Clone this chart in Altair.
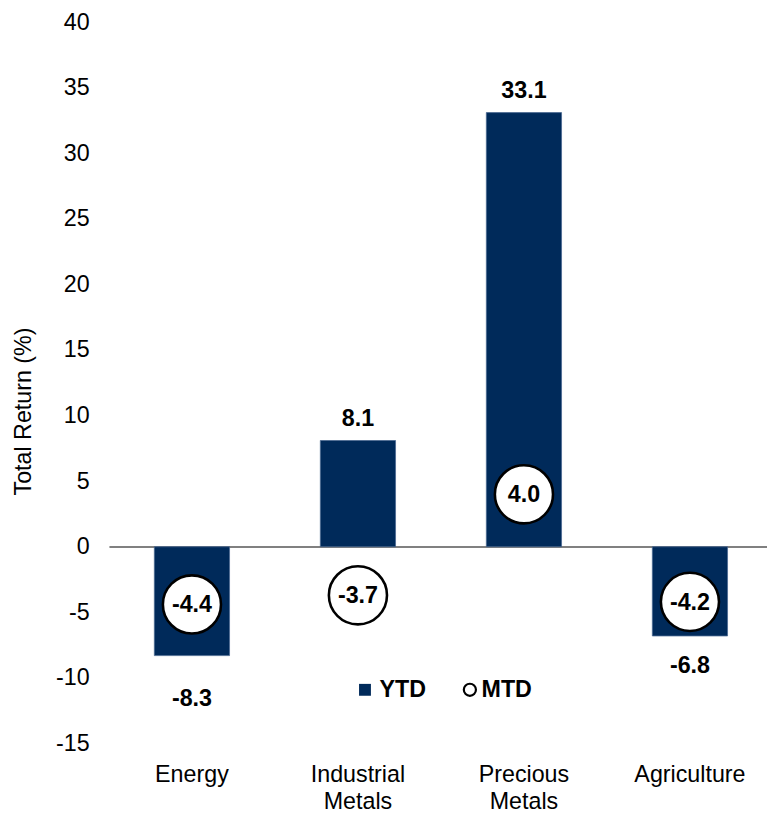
import altair as alt
import pandas as pd

categories = ["Energy", "Industrial Metals", "Precious Metals", "Agriculture"]
ytd = [-8.3, 8.1, 33.1, -6.8]
mtd = [-4.4, -3.7, 4.0, -4.2]
series = ["YTD", "MTD"]
y_ticks = [-15, -10, -5, 0, 5, 10, 15, 20, 25, 30, 35, 40]

NAVY = "#002A5A"
FONT = "Liberation Sans"
FS = 23.5

df = pd.DataFrame({
    "category": categories,
    "ytd": ytd,
    "mtd": mtd,
    "s_ytd": series[0],
    "s_mtd": series[1],
})

x = alt.X(
    "category:N",
    sort=categories,
    scale=alt.Scale(paddingInner=0, paddingOuter=0),
    axis=alt.Axis(
        title=None, ticks=False, domain=False, labelAngle=0,
        labelFontSize=FS, labelFont=FONT, labelColor="black",
        labelPadding=19, labelLineHeight=28,
        labelExpr="split(datum.label, ' ')",
    ),
)

yscale = alt.Scale(domain=[-15, 40], nice=False, zero=False)

base = alt.Chart(df).transform_calculate(
    ytd_txt="replace(format(datum.ytd, '.1f'), '\u2212', '-')",
    mtd_txt="replace(format(datum.mtd, '.1f'), '\u2212', '-')",
)

bars = base.mark_bar(size=76, stroke="#4a6890", strokeWidth=0.8).encode(
    x=x,
    y=alt.Y(
        "ytd:Q",
        scale=yscale,
        axis=alt.Axis(
            values=y_ticks, ticks=False, domain=False,
            labelFontSize=FS, labelFont=FONT, labelColor="black", labelPadding=20,
            labelExpr="replace(datum.label, '\u2212', '-')",
            title="Total Return (%)", titleFontSize=FS, titleFont=FONT,
            titleFontWeight="normal", titleColor="black",
            titleX=-86, titleY=393, titleAlign="center", titleBaseline="middle",
            grid=True, gridColor="#808080", gridWidth=2,
            gridOpacity={"condition": {"test": "datum.value === 0", "value": 1}, "value": 0},
        ),
    ),
    color=alt.Color(
        "s_ytd:N",
        scale=alt.Scale(domain=[series[0]], range=[NAVY]),
        legend=alt.Legend(
            title=None, orient="none", legendX=247, legendY=663,
            symbolType="square", symbolSize=144, symbolStrokeWidth=0,
            labelFontSize=FS, labelFontWeight="bold", labelFont=FONT,
            labelColor="black", labelOffset=3, padding=0,
        ),
    ),
)

txt_style = dict(fontSize=FS, fontWeight="bold", font=FONT, color="black")

lab_pos = base.transform_filter("datum.ytd >= 0").mark_text(
    baseline="alphabetic", dy=-15, **txt_style
).encode(x=x, y=alt.Y("ytd:Q", scale=yscale), text="ytd_txt:N")

lab_neg = base.transform_filter(
    f"datum.ytd < 0 && datum.category !== '{categories[0]}'"
).mark_text(baseline="alphabetic", dy=37, **txt_style).encode(
    x=x, y=alt.Y("ytd:Q", scale=yscale), text="ytd_txt:N"
)

lab_neg2 = base.transform_filter(
    f"datum.ytd < 0 && datum.category === '{categories[0]}'"
).mark_text(baseline="alphabetic", dy=51, **txt_style).encode(
    x=x, y=alt.Y("ytd:Q", scale=yscale), text="ytd_txt:N"
)

pts = base.mark_point(
    shape="circle", size=3450, fill="white", fillOpacity=1, strokeWidth=2.6, opacity=1,
).encode(
    x=x,
    y=alt.Y("mtd:Q", scale=yscale),
    stroke=alt.Stroke(
        "s_mtd:N",
        scale=alt.Scale(domain=[series[1]], range=["black"]),
        legend=alt.Legend(
            title=None, orient="none", legendX=353, legendY=663,
            symbolType="circle", symbolSize=150, symbolStrokeWidth=2.2,
            symbolFillColor="white",
            labelFontSize=FS, labelFontWeight="bold", labelFont=FONT,
            labelColor="black", labelOffset=0, padding=0,
        ),
    ),
)

mtd_lab = base.mark_text(baseline="middle", dy=1, **txt_style).encode(
    x=x, y=alt.Y("mtd:Q", scale=yscale), text="mtd_txt:N"
)

chart = alt.layer(bars, lab_pos, lab_neg, lab_neg2, pts, mtd_lab).resolve_legend(
    color="independent", stroke="independent"
).properties(
    width=671, height=729,
    autosize=alt.AutoSizeParams(type="none"),
    padding={"left": 102, "top": 10, "right": -6, "bottom": 68},
).configure_view(stroke=None)

chart.save("out.html", embed_options={"renderer": "svg", "actions": False})
